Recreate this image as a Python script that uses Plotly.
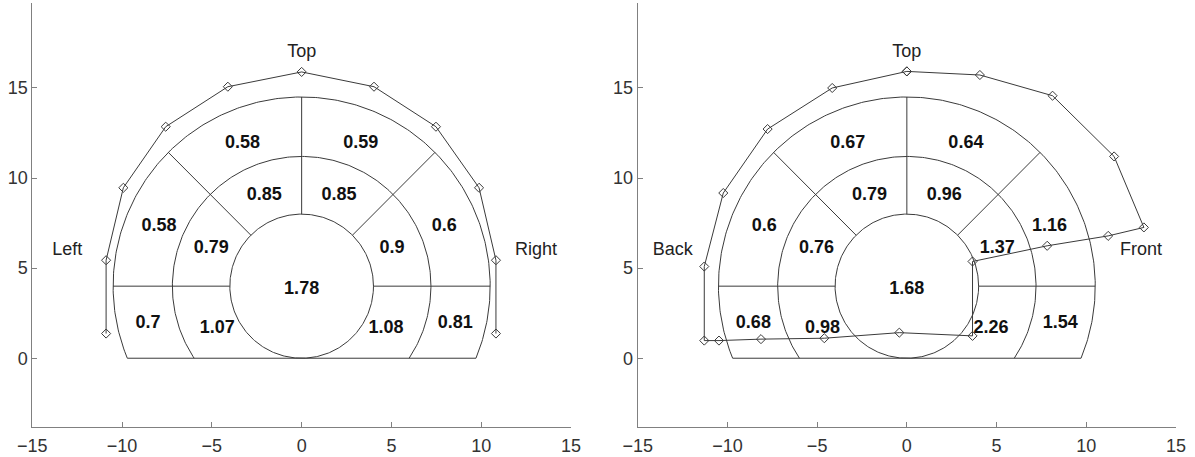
import numpy as np
import plotly.graph_objects as go

# ---------------- data ----------------
# sector order: [upper-left, upper-mid-left, upper-mid-right, upper-right, lower-left, lower-right]
left_outer = [0.58, 0.58, 0.59, 0.6, 0.7, 0.81]
left_middle = [0.79, 0.85, 0.85, 0.9, 1.07, 1.08]
left_center = 1.78
right_outer = [0.6, 0.67, 0.64, 1.16, 0.68, 1.54]
right_middle = [0.76, 0.79, 0.96, 1.37, 0.98, 2.26]
right_center = 1.68

left_sides = ["Left", "Top", "Right"]
right_sides = ["Back", "Top", "Front"]

left_curve_x = [-10.89, -10.89, -9.93, -7.57, -4.11, 0.0, 4.03, 7.48, 9.88, 10.82, 10.82]
left_curve_y = [1.37, 5.44, 9.46, 12.85, 15.07, 15.89, 15.07, 12.85, 9.46, 5.44, 1.37]

right_curve_x = [0.0, 4.07, 8.12, 11.55, 13.21, 11.22, 7.82, 3.66, 3.66, -0.42, -4.6,
                 -8.13, -10.47, -11.29, -11.29, -10.23, -7.76, -4.16, 0.0]
right_curve_y = [15.92, 15.72, 14.57, 11.2, 7.26, 6.79, 6.24, 5.37, 1.24, 1.42, 1.11,
                 1.06, 0.98, 0.98, 5.09, 9.17, 12.72, 15.0, 15.92]

x_ticks = [-15, -10, -5, 0, 5, 10, 15]
y_ticks = [0, 5, 10, 15]

# ---------------- geometry / style ----------------
CX, CY = 0.0, 4.0
R_IN, R_MID, R_OUT = 4.0, 7.2, 10.5
OUT_ANG = [157.5, 112.5, 67.5, 22.5, 193.6, -13.6]
OUT_R = [8.6, 8.6, 8.6, 8.6, 8.8, 8.8]
MID_ANG = [157.5, 112.5, 67.5, 22.5, 206.6, -26.6]
MID_R = [5.45, 5.45, 5.45, 5.45, 5.25, 5.25]
SIDE_POS = [(-13.05, 5.96), (0.0, 16.96), (13.05, 5.96)]

LINE = "#3a3a3a"
AXIS = "#808080"
FONT = "Liberation Sans, Arial, Helvetica, sans-serif"


def polar(r, deg):
    t = np.radians(deg)
    return CX + r * np.cos(t), CY + r * np.sin(t)


def geometry_xy():
    xs, ys = [], []

    def add(x, y):
        xs.extend(list(x) + [None])
        ys.extend(list(y) + [None])

    # inner full circle
    t = np.linspace(0, 360, 361)
    add(*polar(R_IN, t))
    for r in (R_MID, R_OUT):
        a = np.degrees(np.arcsin(CY / r))
        t = np.linspace(-a, 180 + a, 300)
        add(*polar(r, t))
    for ang in (0, 45, 90, 135, 180):
        x0, y0 = polar(R_IN, ang)
        x1, y1 = polar(R_OUT, ang)
        add([x0, x1], [y0, y1])
    xb = np.sqrt(R_OUT ** 2 - CY ** 2)
    add([-xb, xb], [0, 0])
    return xs, ys


def label_xy(values_outer, values_middle, center):
    xs, ys, txt = [], [], []
    for v, a, r in zip(values_outer, OUT_ANG, OUT_R):
        x, y = polar(r, a)
        xs.append(x); ys.append(y); txt.append(f"{v:g}")
    for v, a, r in zip(values_middle, MID_ANG, MID_R):
        x, y = polar(r, a)
        xs.append(x); ys.append(y); txt.append(f"{v:g}")
    xs.append(CX); ys.append(CY - 0.2); txt.append(f"{center:g}")
    return xs, ys, txt


fig = go.Figure()
panels = [
    ("x", "y", left_outer, left_middle, left_center, left_curve_x, left_curve_y, left_sides),
    ("x2", "y2", right_outer, right_middle, right_center, right_curve_x, right_curve_y, right_sides),
]
for xa, ya, vo, vm, vc, cx, cy, sides in panels:
    gx, gy = geometry_xy()
    fig.add_trace(go.Scatter(x=gx, y=gy, mode="lines", xaxis=xa, yaxis=ya,
                             line=dict(color=LINE, width=1), hoverinfo="skip", showlegend=False))
    fig.add_trace(go.Scatter(x=cx, y=cy, mode="lines+markers", xaxis=xa, yaxis=ya,
                             line=dict(color=LINE, width=1),
                             marker=dict(symbol="diamond-open", size=7, color=LINE, line=dict(width=1)),
                             showlegend=False))
    lx, ly, lt = label_xy(vo, vm, vc)
    fig.add_trace(go.Scatter(x=lx, y=ly, text=lt, mode="text", xaxis=xa, yaxis=ya,
                             textfont=dict(family=FONT, size=18, color="#111"),
                             texttemplate="<b>%{text}</b>", showlegend=False, hoverinfo="skip"))
    sx = [p[0] for p in SIDE_POS]
    sy = [p[1] for p in SIDE_POS]
    fig.add_trace(go.Scatter(x=sx, y=sy, text=sides, mode="text", xaxis=xa, yaxis=ya,
                             textfont=dict(family=FONT, size=18, color="#222"),
                             showlegend=False, hoverinfo="skip"))

axis_common = dict(showgrid=False, zeroline=False, showline=True, linecolor=AXIS, linewidth=1,
                   ticks="inside", ticklen=5, tickcolor=AXIS, automargin=False,
                   tickfont=dict(family=FONT, size=18, color="#333"))
ydom = [0.0663, 0.9928]
fig.update_layout(
    width=1195, height=457, autosize=False,
    margin=dict(l=0, r=0, t=0, b=0, autoexpand=False),
    paper_bgcolor="white", plot_bgcolor="white",
    xaxis=dict(domain=[0.02703, 0.47782], range=[-15, 15], tickvals=x_ticks, anchor="y",
               ticklabelstandoff=3, **axis_common),
    yaxis=dict(domain=ydom, range=[-3.8, 19.7], tickvals=y_ticks, anchor="x", **axis_common),
    xaxis2=dict(domain=[0.53364, 0.98410], range=[-15, 15], tickvals=x_ticks, anchor="y2",
                ticklabelstandoff=3, **axis_common),
    yaxis2=dict(domain=ydom, range=[-3.8, 19.7], tickvals=y_ticks, anchor="x2", **axis_common),
)

fig.write_html("out.html", config={"displayModeBar": False},
               post_script="document.body.style.margin='0';")
